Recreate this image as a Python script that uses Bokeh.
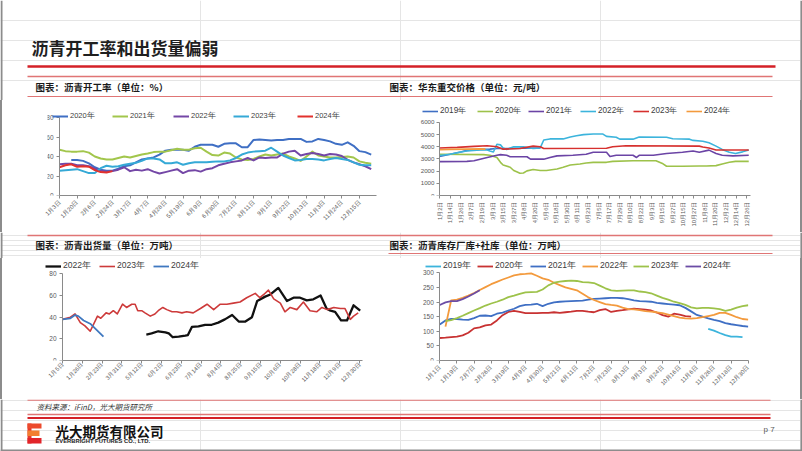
import math
import numpy as np
from bokeh.plotting import figure
from bokeh.models import Range1d, FixedTicker, Legend, LegendItem, Spacer
from bokeh.layouts import row, column
from bokeh.embed import file_html
from bokeh.resources import INLINE
from bokeh.core.properties import value

# ---------------- data ----------------
# 图表1：沥青开工率（%），周度序号 0..53
kg_ticks = [0, 3, 6, 9, 12, 15, 18, 21, 24, 27, 30, 33, 36, 39, 42, 45, 48, 51]
kg_labels = ["1月3日", "1月20日", "2月6日", "2月24日", "3月17日", "4月7日", "4月28日", "5月19日",
             "6月9日", "6月30日", "7月21日", "8月11日", "9月1日", "9月22日", "10月13日", "11月3日",
             "11月24日", "12月15日"]
kg_yticks = [0, 20, 40, 60, 80]
kg_x = list(range(54))
kg_2020 = [None, None, 36.5, 36.5, 35.5, 33, 29, 26.5, 25.5, 25.5, 27.5, 30, 31, 34, 37, 38, 39, 42, 46, 47,
           47, 47, 46, 50, 52, 52, 52, 50, 53, 53.5, 53.5, 49.5, 49.5, 57, 57.5, 57, 56.5, 57, 57, 58,
           58, 58, 55, 55.5, 58, 57, 55.5, 53, 52, 54.5, 51, 45.5, 44.5, 42]
kg_2021 = [47, 45.5, 45, 45, 45.5, 44, 40, 38, 37, 37, 38.5, 40, 39, 40.5, 42, 43, 44.5, 45, 45, 46.5,
           48, 47, 47, 48.5, 49, 45, 41.5, 41, 44, 43, 39, 37, 36.5, 37.5, 40, 42, 41, 42, 43, 40,
           38, 35.5, 40, 45, 41, 40, 39, 39, 39.5, 40, 39, 35, 33.5, 32.5]
kg_2022 = [32, 32.5, 32.5, 31, 31, 30, 27.5, 25.5, 24.5, 25, 26.5, 29, 25, 26.5, 25.5, 27, 24.5, 22.5, 24, 25.5,
           27, 23, 25.5, 26, 24.5, 27, 28, 31, 32.5, 34, 35, 36, 38.5, 36, 39, 38.5, 39, 39, 43, 45,
           46, 41, 42.5, 43.5, 42.5, 41, 42.5, 42, 40.5, 36.5, 34, 32, 30, 27]
kg_2023 = [25.5, 26, 26.5, 27, 25, 23, 23, 28, 30.5, 29.5, 30, 31.5, 32.5, 33.5, 35.5, 38, 38, 37, 33, 33,
           34, 31.5, 33, 34, 34, 34, 34.5, 35, 35, 36, 38.5, 42, 44, 45, 45.5, 46, 49, 45, 41, 38.5,
           36, 36.5, 37.5, 37.5, 37, 36, 37.5, 38.5, 37.5, 36.5, 34, 31.5, 31, 31]
kg_2024 = [29, 31, 32, 29.5, 30, 29.5, 26, 24, 23.5, 25]

# 图表2：华东重交价格（元/吨），日序号
jg_ticks = list(range(0, 349, 12))
jg_labels = ["1月2日", "1月14日", "1月26日", "2月7日", "2月19日", "3月3日", "3月15日", "3月27日", "4月8日",
             "4月20日", "5月6日", "5月18日", "5月30日", "6月11日", "6月23日", "7月5日", "7月17日", "7月29日",
             "8月10日", "8月22日", "9月3日", "9月15日", "9月27日", "10月15日", "10月27日", "11月8日",
             "11月20日", "12月2日", "12月14日", "12月26日"]
jg_yticks = [0, 1000, 2000, 3000, 4000, 5000, 6000]
jg_2019_x = [0, 12, 24, 31, 46, 57, 65, 80, 95, 114]
jg_2019_y = [3200, 3380, 3570, 3700, 3780, 3800, 3850, 3850, 3880, 3900]
jg_2020_x = [0, 50, 57, 65, 69, 72, 80, 84, 88, 91, 95, 99, 106, 114, 121, 133, 140, 148, 159, 166, 174,
             189, 196, 219, 245, 253, 257, 275, 294, 302, 313, 320, 328, 335, 350]
jg_2020_y = [3380, 3350, 3300, 3120, 2720, 2500, 2320, 2050, 1920, 1820, 1850, 2020, 2130, 2050, 2050, 2180,
             2320, 2500, 2580, 2660, 2720, 2720, 2800, 2850, 2850, 2600, 2400, 2400, 2420, 2420, 2450, 2580,
             2720, 2800, 2800]
jg_2021_x = [0, 31, 39, 46, 54, 65, 69, 76, 80, 99, 103, 118, 125, 133, 151, 166, 174, 189, 193, 200, 219,
             223, 226, 242, 257, 275, 287, 294, 305, 313, 320, 332, 350]
jg_2021_y = [2780, 2800, 2850, 2980, 3120, 3300, 3350, 3300, 3180, 3180, 2980, 2980, 3120, 3250, 3300, 3380,
             3550, 3550, 3200, 3300, 3300, 3120, 3300, 3300, 3450, 3550, 3650, 3550, 3720, 3450, 3300, 3250,
             3300]
jg_2022_x = [0, 12, 24, 31, 46, 54, 57, 61, 65, 69, 72, 76, 80, 84, 95, 106, 114, 118, 125, 140, 148, 155,
             163, 174, 185, 189, 200, 204, 219, 226, 257, 264, 283, 287, 298, 305, 313, 320, 328, 335, 343, 350]
jg_2022_y = [3280, 3380, 3570, 3650, 3730, 3730, 3650, 3570, 4200, 4150, 3900, 3780, 3900, 3990, 3990, 3860,
             3900, 4550, 4640, 4640, 4800, 4900, 4990, 5040, 5040, 4850, 4780, 4620, 4620, 4800, 4780, 4650,
             4620, 4520, 4450, 4320, 4050, 3780, 3550, 3450, 3580, 3730]
jg_2023_x = [0, 20, 39, 54, 65, 72, 91, 106, 114, 118, 189, 196, 211, 294, 298, 305, 313, 350]
jg_2023_y = [3900, 3950, 4030, 4080, 4000, 3800, 3850, 4050, 4000, 3850, 3880, 4000, 4080, 4050, 3980, 3900,
             3730, 3730]
jg_2024_x = [0, 12, 31, 46, 52]
jg_2024_y = [3750, 3780, 3800, 3820, 3800]

# 图表3：沥青出货量（万吨），周序号
ch_ticks = list(range(0, 46, 3))
ch_labels = ["1月5日", "1月26日", "2月23日", "3月31日", "5月12日", "6月2日", "6月23日", "7月14日", "8月4日",
             "8月25日", "9月15日", "10月6日", "10月28日", "11月18日", "12月9日", "12月30日"]
ch_yticks = [0, 20, 40, 60, 80]
ch_2022_x = [12.7, 13.5, 14.5, 15.6, 16.1, 16.7, 17.6, 18.6, 19.0, 19.6, 20.6, 21.6, 22.6, 23.6, 24.6, 25.7,
             26.7, 27.7, 28.7, 29.5, 30.7, 31.5, 32.7, 34.0, 35.0, 36.0, 37.0, 38.0, 39.1, 40.0, 40.6, 41.3,
             42.2, 43.1, 44.1, 45.1]
ch_2022_y = [24, 25, 27, 26, 25, 21.5, 22, 23, 23.5, 31, 31.5, 33, 33, 35, 38, 42, 36, 36, 40, 55, 59, 61,
             67, 55, 58, 58, 55.5, 56.5, 60, 48, 46, 45, 37, 37, 51, 46]
ch_2023_x = [0, 1.2, 1.9, 2.7, 3.4, 4.2, 5.3, 5.8, 6.6, 7.1, 7.7, 8.3, 9.1, 9.7, 10.5, 11.0, 11.4, 12.0,
             12.5, 13.3, 14.0, 14.5, 15.2, 15.8, 16.6, 17.3, 18.1, 18.8, 19.8, 20.9, 21.9, 22.9, 23.9, 24.9,
             25.9, 26.9, 27.9, 29.2, 29.9, 30.5, 31.2, 32.0, 33.0, 33.7, 34.5, 35.5, 36.5, 37.5, 38.5, 39.3,
             40.1, 41.1, 42.1, 42.8, 43.6, 44.1, 44.8]
ch_2023_y = [38, 40, 43, 35, 32, 27, 41, 39, 44, 43, 46, 43, 52, 49, 52, 52, 46, 46, 44, 41, 43, 46, 49, 47,
             45, 45, 44, 45, 44, 48, 52, 47, 52, 52, 53, 54, 58, 62, 58, 61, 65, 57, 53, 45, 49, 47, 54, 46,
             45, 49, 47, 49, 48, 48, 38, 41, 44]
ch_2024_x = [0, 1.2, 1.9, 2.4, 3.2, 4.2, 5.2, 6.2]
ch_2024_y = [38, 39, 42, 41, 37, 34, 28, 22]

# 图表4：沥青库存厂库+社库（万吨），周序号 0..54
kc_ticks = list(range(0, 55, 3))
kc_labels = ["1月1日", "1月19日", "2月7日", "2月26日", "3月19日", "4月9日", "4月30日", "5月21日", "6月11日",
             "7月2日", "7月23日", "8月13日", "9月3日", "9月24日", "10月16日", "11月6日", "11月26日",
             "12月18日", "12月30日"]
kc_yticks = [0, 50, 100, 150, 200, 250, 300]
kc_x = list(range(55))
kc_2019 = [None] * 47 + [108, 102, 94, 87, 82, 82, 80, None]
kc_2020 = [77, 78, 80, 82, 86, 95, 110, 113, 120, 123, 137, 155, 166, 170, 166, 162, 162, 162, 163, 163,
           165, 163, 165, 167, 170, 170, 167, 165, 172, 176, 166, 170, 172, 175, 177, 176, 174, 171, 164, 155,
           150, 160, 157, 152, 150] + [None] * 10
kc_2021 = [123, 137, 142, 142, 140, 139, 145, 153, 154, 152, 160, 164, 171, 177, 186, 190, 191, 194, 186, 194,
           199, 201, 202, 203, 204, 205, 208, 211, 212, 213, 214, 214, 213, 210, 206, 203, 202, 201, 197, 195,
           193, 191, 189, 180, 168, 156, 150, 144, 139, 135, 128, 124, 121, 118, 116]
kc_2022 = [None, 116, 206, 208, 214, 222, 231, 241, 251, 261, 269, 277, 284, 291, 295, 296, 298, 290, 281, 276,
           266, 258, 250, 245, 240, 228, 216, 207, 200, 193, 190, 188, 181, 176, 175, 172, 169, 167, 165, 162,
           157, 152, 147, 144, 143, 145, 148, 152, 156, 163, 163, 156, 148, 142, 140]
kc_2023 = [None, 135, 138, 145, 153, 162, 171, 179, 188, 195, 201, 208, 217, 222, 228, 233, 234, 235, 243, 257,
           266, 270, 272, 273, 272, 268, 267, 265, 256, 247, 240, 238, 239, 240, 240, 236, 234, 230, 222, 214,
           208, 201, 196, 190, 182, 178, 180, 180, 178, 176, 170, 174, 181, 186, 189]
kc_2024 = [190, 199, 203, 203, 210, 219, 229, 240] + [None] * 47

# ---------------- helpers ----------------
CJK = "Noto Sans CJK SC"
LAT = "Liberation Sans"
AXIS = "#8a8a8a"
FRAME = "#8c8c8c"
W = 802


def nan_arr(v):
    return np.array([np.nan if a is None else a for a in v], dtype=float)


def deco(y0, y1):
    f = figure(width=W, height=y1 - y0, x_range=Range1d(0, W), y_range=Range1d(y1, y0),
               x_axis_location=None, y_axis_location=None, toolbar_location=None,
               output_backend="svg", min_border=0, title=None)
    f.outline_line_color = None
    f.background_fill_color = "white"
    f.border_fill_color = "white"
    f.segment(x0=[1, 801], y0=[y0, y0], x1=[1, 801], y1=[y1, y1], line_color=FRAME, line_width=2)
    return f


def strip(h):
    return Spacer(width=2, height=h, styles={"background-color": FRAME})


def hline(f, x0, x1, y, color, w):
    f.segment(x0=[x0], y0=[y], x1=[x1], y1=[y], line_color=color, line_width=w)


def txt(f, x, y, s, size, color="#1a1a1a", font=CJK, style="normal", align="left"):
    f.text(x=[x], y=[y], text=[s], text_font=value(font), text_font_size=size,
           text_font_style=style, text_color=color, text_baseline="middle", text_align=align)


def chart(width, height, ml, mr, mb, x_start, x_end, y_end, yticks, ticks, labels, orient, xfs, xstand,
          yfs="6.5px", ystand=3):
    p = figure(width=width, height=height, x_range=Range1d(x_start, x_end), y_range=Range1d(0, y_end),
               toolbar_location=None, output_backend="svg", title=None,
               min_border_left=ml, min_border_right=mr, min_border_top=0, min_border_bottom=mb)
    p.outline_line_color = None
    p.background_fill_color = "white"
    p.border_fill_color = "white"
    p.grid.grid_line_color = None
    p.xaxis.ticker = FixedTicker(ticks=ticks)
    p.xaxis.major_label_overrides = {t: l for t, l in zip(ticks, labels)}
    p.xaxis.major_label_orientation = orient
    p.xaxis.major_label_text_font_size = xfs
    p.xaxis.major_label_standoff = xstand
    p.xaxis.bounds = (0, x_end)
    p.yaxis.ticker = FixedTicker(ticks=yticks)
    p.yaxis.bounds = (yticks[0], yticks[-1])
    p.yaxis.fixed_location = 0
    p.yaxis.major_label_text_font_size = yfs
    p.yaxis.major_label_standoff = ystand
    for ax in (p.xaxis[0], p.yaxis[0]):
        ax.axis_line_color = AXIS
        ax.axis_line_width = 1
        ax.major_tick_line_color = AXIS
        ax.minor_tick_line_color = None
        ax.major_tick_out = 3
        ax.major_tick_in = 0
        ax.major_label_text_color = "#595959"
        ax.major_label_text_font = LAT
    return p


def leg(p, r, label, vx, vy, fs):
    lg = Legend(items=[LegendItem(label=label, renderers=[r])], location=(vx, vy),
                orientation="horizontal", padding=0, margin=0, spacing=0,
                glyph_width=16, glyph_height=10, label_height=10, label_standoff=2,
                label_text_font_size=fs, label_text_color="#404040", label_text_font=LAT,
                border_line_color=None, background_fill_alpha=0)
    p.add_layout(lg)


# ---------------- header (y 0..100) ----------------
RED = "#D42027"
PINK = "#E07575"
h1 = deco(0, 100)
txt(h1, 31, 47, "沥青开工率和出货量偏弱", "17px", color="#1f1f1f", style="bold")
hline(h1, 27, 775, 66, RED, 2.5)
hline(h1, 27, 772, 76, PINK, 1.4)
txt(h1, 35, 86.5, "图表：沥青开工率（单位：%）", "9.5px", style="bold")
txt(h1, 389, 86.5, "图表：华东重交价格（单位：元/吨）", "9.5px", style="bold")
hline(h1, 27, 772, 96, PINK, 1.2)

# ---------------- chart 1 (x 2..398, y 100..232) ----------------
c1 = chart(396, 132, 45, 22, 37, -12 / 5.88, 53.9, 95 / 0.975, kg_yticks, kg_ticks, kg_labels,
           math.pi / 4, "6px", 3)
c1_series = [("2020年", kg_2020, "#3F6FC4"), ("2021年", kg_2021, "#A2C64C"), ("2022年", kg_2022, "#7447A6"),
             ("2023年", kg_2023, "#35A9D6"), ("2024年", kg_2024, "#E2312D")]
c1_vx = [5, 65, 126, 186, 250]
for (lab, vals, col), vx in zip(c1_series, c1_vx):
    r = c1.line(x=kg_x[:len(vals)], y=nan_arr(vals), line_color=col, line_width=2, line_join="round")
    leg(c1, r, lab, vx, 74, "7.5px")

# ---------------- chart 2 (x 398..800, y 100..232) ----------------
c2 = chart(402, 132, 19, 50, 35, -22 / 0.8835, 352, 97 / 74.7 * 6000, jg_yticks, jg_ticks, jg_labels,
           math.pi / 2, "5.8px", 3, yfs="6.2px", ystand=2)
c2_series = [("2019年", jg_2019_x, jg_2019_y, "#3F6FC4"), ("2020年", jg_2020_x, jg_2020_y, "#9DC24A"),
             ("2021年", jg_2021_x, jg_2021_y, "#6B44A5"), ("2022年", jg_2022_x, jg_2022_y, "#3CB4DC"),
             ("2023年", jg_2023_x, jg_2023_y, "#D6302E"), ("2024年", jg_2024_x, jg_2024_y, "#F39A3D")]
c2_vx = [5, 60, 111, 163, 216, 269]
for (lab, xs, ys, col), vx in zip(c2_series, c2_vx):
    r = c2.line(x=xs, y=ys, line_color=col, line_width=1.6, line_join="round")
    leg(c2, r, lab, vx, 79, "8.2px")

# ---------------- middle header (y 232..258) ----------------
h2 = deco(232, 258)
hline(h2, 27, 772, 235, PINK, 1.4)
txt(h2, 35, 244.5, "图表：沥青出货量（单位：万吨）", "9.5px", style="bold")
txt(h2, 389, 244.5, "图表：沥青库存厂库+社库（单位：万吨）", "9.5px", style="bold")
hline(h2, 388, 772, 253, PINK, 1.2)

# ---------------- chart 3 (x 2..398, y 258..399) ----------------
c3 = chart(396, 141, 38, 36, 35, -22 / 6.6, 45.45, 106 / 90 * 80, ch_yticks, ch_ticks, ch_labels,
           math.pi / 4, "5.8px", 0)
c3_series = [("2022年", ch_2022_x, ch_2022_y, "#111111", 2.3), ("2023年", ch_2023_x, ch_2023_y, "#CD3A3A", 1.6),
             ("2024年", ch_2024_x, ch_2024_y, "#3F78C0", 1.8)]
c3_vx = [5, 59, 113]
for (lab, xs, ys, col, w), vx in zip(c3_series, c3_vx):
    r = c3.line(x=xs, y=ys, line_color=col, line_width=w, line_join="round")
    leg(c3, r, lab, vx, 88, "8.6px")

# ---------------- chart 4 (x 398..800, y 258..399) ----------------
c4 = chart(402, 141, 20, 52, 39, -21.3 / 5.72, 54.05, 102 / 87.7 * 300, kc_yticks, kc_ticks, kc_labels,
           math.pi / 4, "6px", 3)
c4_series = [("2019年", kc_2019, "#3CB4DC"), ("2020年", kc_2020, "#C83232"), ("2021年", kc_2021, "#3F6FC4"),
             ("2022年", kc_2022, "#F39A3D"), ("2023年", kc_2023, "#9DC24A"), ("2024年", kc_2024, "#6B4CA5")]
c4_vx = [7, 59, 112, 164, 215, 267]
for (lab, vals, col), vx in zip(c4_series, c4_vx):
    r = c4.line(x=kc_x, y=nan_arr(vals), line_color=col, line_width=1.8, line_join="round")
    leg(c4, r, lab, vx, 88, "8.6px")

# ---------------- footer (y 399..451) ----------------
ft = deco(399, 451)
hline(ft, 27, 770, 399.7, PINK, 1.2)
txt(ft, 36, 406, "资料来源：iFinD，光大期货研究所", "7.5px", color="#333333", style="italic")
hline(ft, 27, 770, 414, PINK, 1.3)
hline(ft, 27, 770, 417.5, RED, 2)
ft.quad(left=[27], right=[31], top=[423], bottom=[443], fill_color="#E8392B", line_color=None)
ft.quad(left=[27], right=[41], top=[423], bottom=[428], fill_color="#EC4A2C", line_color=None)
ft.quad(left=[27], right=[39], top=[430], bottom=[435.5], fill_color="#F27F30", line_color=None)
ft.quad(left=[27], right=[41], top=[437.5], bottom=[443], fill_color="#E2242A", line_color=None)
txt(ft, 55, 430.5, "光大期货有限公司", "13.5px", color="#111111", style="bold")
txt(ft, 55, 440, "EVERBRIGHT FUTURES CO., LTD.", "5.8px", color="#222222", font=LAT, style="bold")
txt(ft, 763, 429, "p 7", "8px", color="#595959", font=LAT)
hline(ft, 0, W, 450, FRAME, 2)

page = column(h1,
              row(strip(132), c1, c2, strip(132), spacing=0),
              h2,
              row(strip(141), c3, c4, strip(141), spacing=0),
              ft, spacing=0)

with open("out.html", "w") as fh:
    fh.write(file_html(page, INLINE))
